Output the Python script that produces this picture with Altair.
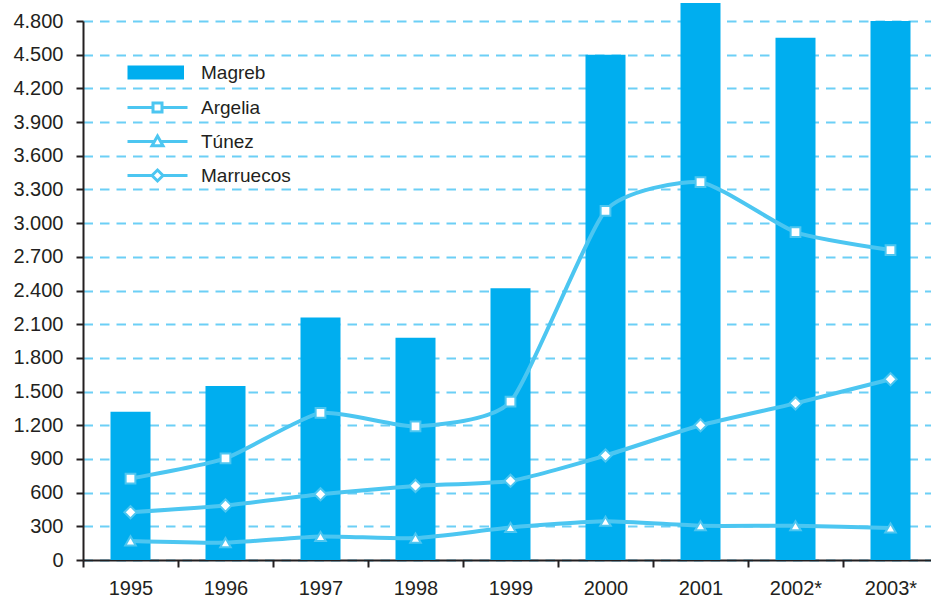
import altair as alt
import pandas as pd

years = ["1995", "1996", "1997", "1998", "1999", "2000", "2001", "2002*", "2003*"]
magreb = [1320, 1550, 2160, 1980, 2420, 4500, 4960, 4650, 4800]
argelia = [725, 905, 1310, 1190, 1410, 3110, 3365, 2920, 2760]
tunez = [170, 155, 210, 195, 290, 345, 305, 305, 285]
marruecos = [425, 485, 585, 660, 705, 930, 1200, 1395, 1610]
series_names = ["Magreb", "Argelia", "Túnez", "Marruecos"]
y_ticks = list(range(0, 4801, 300))

BAR = "#00AEEF"
LINE = "#4CC6F1"
GRID = "#6CCFF6"
TXT = "#231F20"
FONT = "Liberation Sans"
FS_AXIS = 20
FS_LEG = 19

bars_df = pd.DataFrame({"anio": years, "valor": magreb})
lines_df = pd.concat([
    pd.DataFrame({"anio": years, "valor": argelia, "serie": "Argelia"}),
    pd.DataFrame({"anio": years, "valor": tunez, "serie": "Túnez"}),
    pd.DataFrame({"anio": years, "valor": marruecos, "serie": "Marruecos"}),
])
legend_df = pd.DataFrame({"serie": series_names})

x_enc = alt.X("anio:N", sort=years,
              scale=alt.Scale(domain=years, range=[0, 855], paddingInner=0, paddingOuter=0),
              axis=alt.Axis(title=None, labelAngle=0, tickBand="extent", grid=False,
                            domainColor=TXT, domainWidth=2, tickColor=TXT, tickWidth=2, tickSize=7,
                            labelFont=FONT, labelFontSize=FS_AXIS, labelColor=TXT, labelPadding=11,
                            labelOverlap=False))
y_enc = alt.Y("valor:Q", scale=alt.Scale(domain=[0, 4800], nice=False, zero=True),
              axis=alt.Axis(title=None, values=y_ticks, tickCount=17, labelOverlap=False,
                            labelExpr="replace(format(datum.value, ','), ',', '.')",
                            grid=True, gridColor=GRID, gridDash=[9.5, 7], gridWidth=2,
                            domainColor=TXT, domainWidth=2, tickColor=TXT, tickWidth=2, tickSize=7,
                            labelFont=FONT, labelFontSize=FS_AXIS, labelColor=TXT, labelPadding=13))

bars = alt.Chart(bars_df).mark_bar(size=40, color=BAR).encode(x=x_enc, y=y_enc)

lines = alt.Chart(lines_df).mark_line(interpolate="cardinal", tension=0.45, stroke=LINE, strokeWidth=4).encode(
    x=x_enc, y=y_enc, detail="serie:N")

shapes = {"Argelia": ("square", 95), "Túnez": ("triangle-up", 110), "Marruecos": ("diamond", 150)}
points = []
for name, (shp, sz) in shapes.items():
    points.append(
        alt.Chart(lines_df[lines_df.serie == name]).mark_point(
            shape=shp, size=sz, filled=True, fill="white", stroke=LINE, strokeWidth=2, opacity=1
        ).encode(x=x_enc, y=y_enc)
    )

paths = [
    "M-2.85,-0.55H2.5V0.55H-2.85Z",
    "M-3,0H-0.45M0.45,0H3M-0.45,-0.45H0.45V0.45H-0.45Z",
    "M-3,0H-0.28M0.28,0H3M0,-0.55L0.55,0.42H-0.55Z",
    "M-3,0H-0.55M0.55,0H3M0,-0.55L0.55,0L0,0.55L-0.55,0Z",
]
leg = alt.Legend(title=None, orient="none", legendX=63, legendY=40,
                 labelFont=FONT, labelFontSize=FS_LEG, labelColor=TXT, labelOffset=32,
                 symbolSize=400, symbolStrokeWidth=3, rowPadding=12)
legend_layer = alt.Chart(legend_df).transform_filter("false").mark_point(
    filled=True, opacity=1, strokeWidth=3
).encode(
    shape=alt.Shape("serie:N", scale=alt.Scale(domain=series_names, range=paths), legend=leg, sort=series_names),
    fill=alt.Fill("serie:N", scale=alt.Scale(domain=series_names, range=[BAR, "white", "white", "white"]), legend=leg, sort=series_names),
    stroke=alt.Stroke("serie:N", scale=alt.Scale(domain=series_names, range=[BAR, LINE, LINE, LINE]), legend=leg, sort=series_names),
)

chart = alt.layer(bars, lines, *points, legend_layer).properties(
    width=848, height=539,
    autosize=alt.AutoSizeParams(type="none"),
    padding={"left": 83, "top": 21, "right": 0, "bottom": 37},
).configure_view(stroke=None)

chart.save("out.html", embed_options={"renderer": "svg", "actions": False})
